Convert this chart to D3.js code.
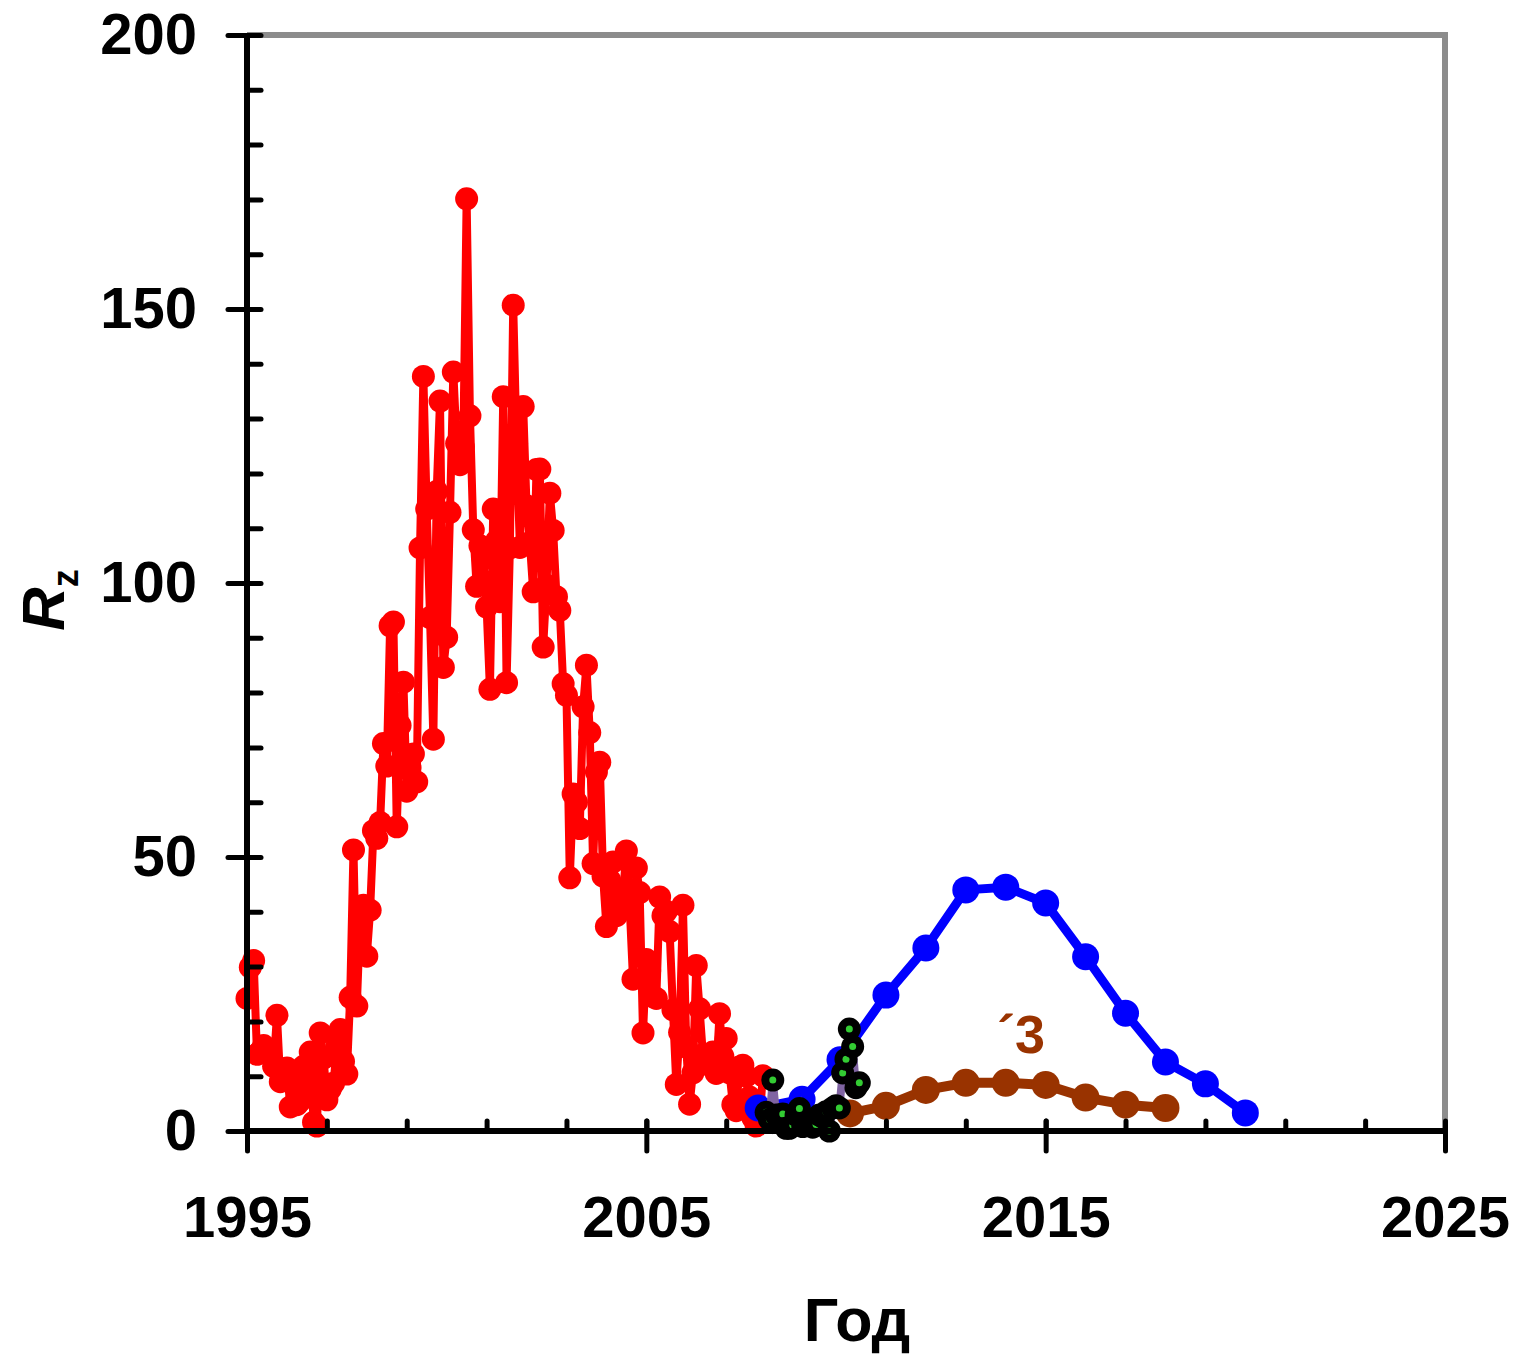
<!DOCTYPE html>
<html>
<head>
<meta charset="utf-8">
<script src="https://cdn.jsdelivr.net/npm/d3@7"></script>
<style>
  body { margin: 0; background: #fff; }
  text { font-family: "Liberation Sans", Arial, sans-serif; font-weight: bold; }
</style>
</head>
<body>
<div id="container"></div>
<script>
/* DATA */
// monthly Rz, Jan 1995 .. Dec 2007 (red)
const redStart = 1995;
const redValues = [
  24.2, 29.9, 31.1, 14.0, 14.5, 15.6, 14.5, 14.3, 11.8, 21.1, 9.0, 10.0,
  11.5, 4.4, 9.2, 4.8, 5.5, 11.8, 8.2, 14.4, 1.6, 0.9, 17.9, 13.3,
  5.7, 7.6, 8.7, 15.5, 18.5, 12.7, 10.4, 24.4, 51.3, 22.8, 39.0, 41.2,
  31.9, 40.3, 54.8, 53.4, 56.3, 70.7, 66.6, 92.2, 92.9, 55.5, 74.0, 81.9,
  62.0, 66.3, 68.8, 63.7, 106.4, 137.7, 113.5, 93.7, 71.5, 116.7, 133.2, 84.6,
  90.1, 112.9, 138.5, 125.5, 121.6, 124.9, 170.1, 130.5, 109.7, 99.4, 106.8, 104.4,
  95.6, 80.6, 113.5, 107.7, 96.6, 134.0, 81.8, 106.4, 150.7, 125.5, 106.5, 132.2,
  114.1, 107.4, 98.4, 120.7, 120.8, 88.3, 99.6, 116.4, 109.6, 97.5, 95.0, 81.6,
  79.5, 46.2, 61.5, 60.0, 55.2, 77.4, 85.0, 72.7, 48.8, 65.5, 67.3, 46.5,
  37.3, 45.8, 49.1, 39.3, 41.5, 43.2, 51.1, 40.9, 27.7, 48.0, 43.5, 17.9,
  31.3, 29.2, 24.5, 24.2, 42.7, 39.3, 40.1, 36.4, 22.1, 8.5, 18.0, 41.2,
  15.3, 4.9, 10.6, 30.2, 22.3, 13.9, 12.2, 12.9, 14.4, 10.5, 21.4, 13.6,
  16.9, 10.6, 4.8, 3.7, 11.7, 12.0, 10.0, 6.2, 2.4, 0.9, 1.7, 10.1
];

// monthly Rz, Jan 2008 .. May 2010 (black / green)
const obsStart = 2008;
const obsValues = [
  3.4, 2.1, 9.3, 2.9, 2.9, 3.1, 0.5, 0.5, 1.1, 2.9, 4.1, 0.8,
  1.5, 1.4, 0.7, 1.2, 2.9, 2.6, 3.5, 0.0, 4.2, 4.6, 4.2, 10.6,
  13.1, 18.6, 15.4, 7.9, 8.8
];

// yearly forecast (blue)
const blueYears = [2007.8, 2008.9, 2009.85, 2011, 2012, 2013, 2014, 2015, 2016, 2017, 2018, 2019, 2020];
const blueValues = [4.2, 5.8, 13, 24.8, 33.4, 44, 44.5, 41.6, 31.8, 21.5, 12.6, 8.6, 3.3];

// yearly forecast x3 (brown)
const brownYears = [2010.1, 2011, 2012, 2013, 2014, 2015, 2016, 2017, 2018];
const brownValues = [3.2, 4.6, 7.5, 8.8, 8.8, 8.4, 6.1, 4.8, 4.2];

const xMajor = [1995, 2005, 2015, 2025];
const xMinor = d3.range(1997, 2025, 2);
const yMajor = [0, 50, 100, 150, 200];
const yMinor = d3.range(0, 201, 10);

/* LAYOUT */
const W = 1521, H = 1355;
const svg = d3.select('#container').append('svg')
  .attr('width', W).attr('height', H);

const x = d3.scaleLinear().domain([1995, 2025]).range([247, 1445]);
const y = d3.scaleLinear().domain([0, 200]).range([1131, 35]);

const red = redValues.map((v, i) => ({ t: redStart + i / 12, v }));
const obs = obsValues.map((v, i) => ({ t: obsStart + i / 12, v }));
const blue = blueYears.map((t, i) => ({ t, v: blueValues[i] }));
const brown = brownYears.map((t, i) => ({ t, v: brownValues[i] }));

const line = d3.line().x(d => x(d.t)).y(d => y(d.v));

// gray frame (top and right)
svg.append('path')
  .attr('d', `M${x(1995)},${y(200)}H${x(2025)}V${y(0)}`)
  .attr('fill', 'none')
  .attr('stroke', '#8c8c8c')
  .attr('stroke-width', 6);

// Series
function series(data, color, lw, r) {
  const g = svg.append('g');
  g.append('path').datum(data)
    .attr('d', line)
    .attr('fill', 'none')
    .attr('stroke', color)
    .attr('stroke-width', lw)
    .attr('stroke-linejoin', 'round');
  g.selectAll('circle').data(data).enter().append('circle')
    .attr('cx', d => x(d.t)).attr('cy', d => y(d.v))
    .attr('r', r).attr('fill', color);
  return g;
}

series(red, '#ff0000', 8, 11.5);
series(blue, '#0000ff', 9, 13.5);
series(brown, '#993300', 10, 14);

// observed monthly (black with green centers)
const gObs = svg.append('g');
gObs.append('path').datum(obs)
  .attr('d', line)
  .attr('fill', 'none')
  .attr('stroke', '#8064a2')
  .attr('stroke-width', 8);
const marks = gObs.selectAll('g.m').data(obs).enter().append('g')
  .attr('class', 'm')
  .attr('transform', d => `translate(${x(d.t)},${y(d.v)})`);
marks.append('circle').attr('r', 11.5).attr('fill', '#000');
marks.append('circle').attr('r', 3.5).attr('fill', '#33cc33');

// Axes
function styleAxis(g) {
  g.select('.domain').remove();
  g.selectAll('.tick line')
    .attr('stroke', '#000')
    .attr('stroke-width', 5)
    .attr('stroke-linecap', 'round');
  g.selectAll('.tick text')
    .attr('fill', '#000')
    .attr('font-size', 58)
    .attr('font-family', '"Liberation Sans", Arial, sans-serif')
    .attr('font-weight', 'bold');
}

// x: inward minor ticks, crossing majors
svg.append('g')
  .attr('transform', `translate(0,${y(0)})`)
  .call(d3.axisBottom(x).tickValues(xMinor.concat(xMajor)).tickSize(-10).tickFormat(''))
  .call(styleAxis);
svg.append('g')
  .attr('transform', `translate(0,${y(0)})`)
  .call(d3.axisBottom(x).tickValues(xMajor).tickSize(20).tickPadding(45).tickFormat(d3.format('d')))
  .call(styleAxis);

// y: inward minor ticks, crossing majors
svg.append('g')
  .attr('transform', `translate(${x(1995)},0)`)
  .call(d3.axisLeft(y).tickValues(yMinor).tickSize(-14).tickFormat(''))
  .call(styleAxis);
svg.append('g')
  .attr('transform', `translate(${x(1995)},0)`)
  .call(d3.axisLeft(y).tickValues(yMajor).tickSize(19).tickPadding(31).tickFormat(d3.format('d')))
  .call(styleAxis);

// axis lines
svg.append('path')
  .attr('d', `M${x(1995)},${y(200)}V${y(0)}H${x(2025)}`)
  .attr('fill', 'none')
  .attr('stroke', '#000')
  .attr('stroke-width', 6);

// x label
svg.append('text')
  .attr('x', 857).attr('y', 1341)
  .attr('text-anchor', 'middle')
  .attr('font-size', 61)
  .text('Год');

// y label
const yl = svg.append('text')
  .attr('transform', 'translate(64,600) rotate(-90)')
  .attr('text-anchor', 'middle')
  .attr('font-size', 60);
yl.append('tspan').attr('font-style', 'italic').text('R');
yl.append('tspan').attr('font-size', 36).attr('dy', 14).text('z');

// annotation
svg.append('text')
  .attr('x', 997).attr('y', 1053)
  .attr('font-size', 54)
  .attr('fill', '#993300')
  .text('´3');
</script>
</body>
</html>
